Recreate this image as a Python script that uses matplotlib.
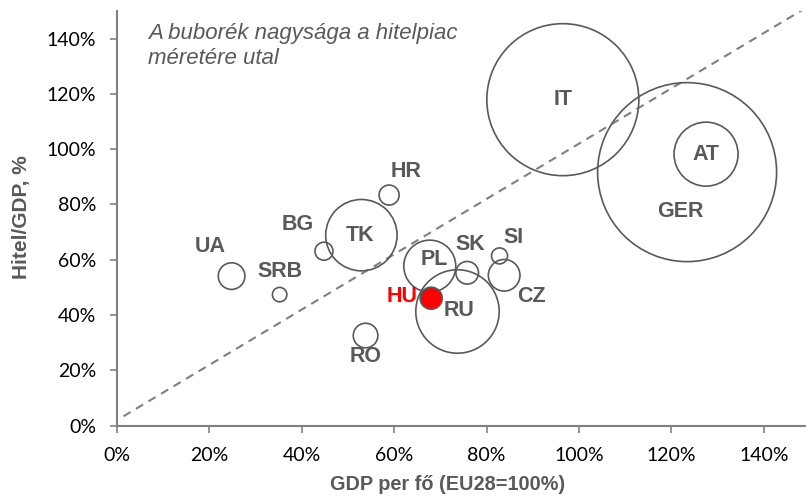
import matplotlib
matplotlib.use('Agg')
import matplotlib.pyplot as plt
import numpy as np

# GDP per capita (EU28=100%), credit/GDP (%), credit market size (bubble area)
countries = ['IT', 'GER', 'AT', 'TK', 'HR', 'BG', 'UA', 'SRB', 'PL', 'SK', 'SI', 'CZ', 'RU', 'RO', 'HU']
gdp_pc = [96.5, 123.4, 127.5, 52.9, 58.9, 44.8, 24.8, 35.2, 67.7, 75.8, 82.8, 83.8, 73.7, 53.8, 68.0]
credit_gdp = [117.9, 91.7, 98.2, 68.9, 83.4, 63.1, 54.1, 47.4, 57.7, 55.3, 61.4, 54.4, 41.3, 32.6, 46.1]
market_size = [5776, 8010, 1024, 1274, 100, 81, 177, 52, 676, 128, 64, 250, 1739, 151, 121]

trend_x = [1.4, 150]
trend_y = [3.4, 152]

x_ticks = [0, 20, 40, 60, 80, 100, 120, 140]
y_ticks = [0, 20, 40, 60, 80, 100, 120, 140]

# label offsets in points
offsets = {
    'IT': (0, 0), 'GER': (-5, -28), 'AT': (0, 0), 'TK': (-1, 0), 'HR': (12, 17),
    'BG': (-19, 19), 'UA': (-15, 21), 'SRB': (0, 17), 'PL': (3, 5), 'SK': (2, 20),
    'SI': (10, 13), 'CZ': (20, -15), 'RU': (1, 1), 'RO': (0, -15), 'HU': (-21, 1),
}

grey = '#595959'

fig = plt.figure(figsize=(8.06, 4.96), dpi=100)
ax = fig.add_axes([117 / 806, 1 - 425.7 / 496, 693 / 806, 414.8 / 496])

ax.plot(trend_x, trend_y, ls=(0, (4, 3)), color='#808080', lw=1.5, zorder=1)

sizes = np.array(market_size) * 1.44 ** 2
colors = ['none'] * (len(countries) - 1) + ['#ff0000']
ax.scatter(gdp_pc, credit_gdp, s=sizes, facecolors=colors, edgecolors=grey,
           linewidths=1.2, zorder=2)

for name, x, y in zip(countries, gdp_pc, credit_gdp):
    c = '#ff0000' if name == 'HU' else grey
    ax.annotate(name, (x, y), xytext=offsets[name], textcoords='offset points',
                ha='center', va='center', fontsize=15.5, fontweight='bold',
                color=c, family='Liberation Sans', zorder=3)

ax.text(6.7, 145.5, 'A buborék nagysága a hitelpiac\nméretére utal', fontsize=16,
        style='italic', color=grey, family='Liberation Sans', va='top', ha='left',
        linespacing=1.25)

ax.set_xlim(0, 150)
ax.set_ylim(0, 150)
ax.set_xticks(x_ticks)
ax.set_yticks(y_ticks)
ax.set_xticklabels([f'{t}%' for t in x_ticks], family='Lato', fontsize=14)
ax.set_yticklabels([f'{t}%' for t in y_ticks], family='Lato', fontsize=14)
ax.tick_params(colors='#808080', labelcolor='black', length=5, width=1.2)
ax.tick_params(axis='y', pad=10)
ax.tick_params(axis='x', pad=10)

for side in ['top', 'right']:
    ax.spines[side].set_visible(False)
for side in ['left', 'bottom']:
    ax.spines[side].set_color('#808080')
    ax.spines[side].set_linewidth(1.5)

fig.text(448 / 806, 1 - 484 / 496, 'GDP per fő (EU28=100%)', ha='center', va='center',
         fontsize=14.3, fontweight='bold', color=grey, family='Liberation Sans')
fig.text(22 / 806, 1 - 217 / 496, 'Hitel/GDP, %', ha='center', va='center', rotation=90,
         fontsize=15, fontweight='bold', color=grey, family='Liberation Sans')

fig.savefig('out.png', dpi=100)
